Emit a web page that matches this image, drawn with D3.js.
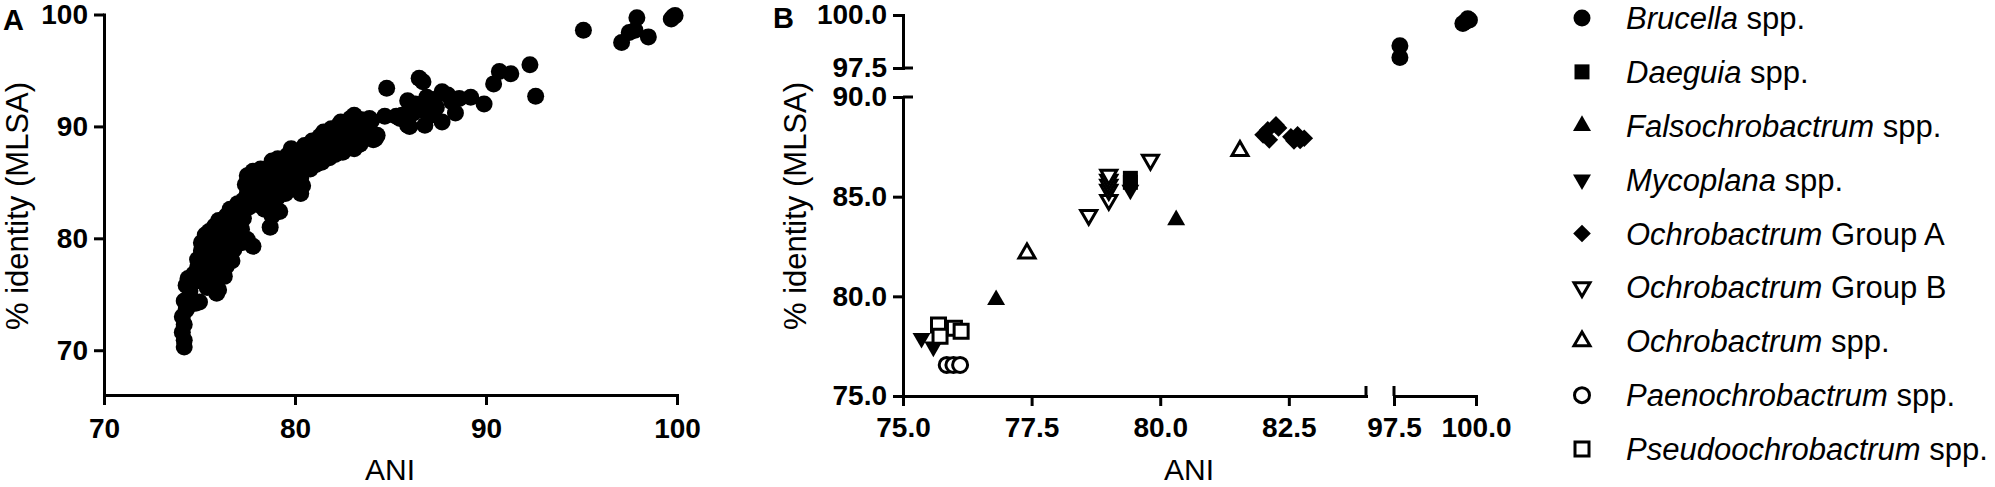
<!DOCTYPE html>
<html>
<head>
<meta charset="utf-8">
<script src="https://cdn.jsdelivr.net/npm/d3@7"></script>
<style>
	body{margin:0;background:#fff;}
	svg{display:block;font-family:'Liberation Sans',Arial,sans-serif;}
</style>
</head>
<body>
<svg id="chart" width="1995" height="487"></svg>
<script>
// ---- Panel A: all pairwise comparisons, [ANI, % identity MLSA]
const aTicks = [70,80,90,100];
const aPoints = [
	[74.2,70.3],[74.2,70.9],[74.1,71.6],[74.2,72.3],[74.1,73.0],[74.3,73.6],[74.2,74.4],[74.4,73.9],[74.5,75.3],[74.3,75.8],[74.4,76.4],
	[74.8,74.2],[75.0,74.3],[74.7,76.8],[74.9,77.4],[74.9,78.1],[75.0,76.2],[75.1,78.9],[75.1,79.6],[75.3,80.3],[75.2,77.6],[75.4,75.6],
	[75.5,76.4],[75.6,77.5],[75.4,78.6],[75.6,79.4],[75.5,80.6],[75.8,81.1],[75.9,75.1],[76.0,75.4],[75.8,76.4],[75.9,77.8],[75.8,78.8],[76.0,79.9],[76.1,80.6],[76.0,81.6],
	[76.3,76.6],[76.4,77.5],[76.2,78.3],[76.4,79.2],[76.3,80.2],[76.5,81.1],[76.4,82.0],[76.6,82.6],[76.7,78.0],[76.8,79.0],[76.9,80.0],[76.8,81.2],[76.9,82.2],[77.0,83.1],
	[77.2,79.6],[77.5,79.9],[77.8,79.3],[77.2,80.8],[77.3,81.8],[77.1,82.6],[77.3,83.4],[77.5,84.0],[77.4,84.8],[77.5,85.6],[77.6,82.8],[77.8,83.6],[77.7,84.6],[77.9,85.4],[77.8,86.0],
	[78.1,83.0],[78.2,84.0],[78.0,84.9],[78.3,85.5],[78.2,86.2],[78.5,83.5],[78.6,84.5],[78.5,85.5],[78.7,86.4],[78.7,81.0],[78.8,82.0],[78.4,82.6],[78.9,83.1],[78.9,85.0],[78.8,86.9],
	[79.2,82.4],[79.1,83.7],[79.2,84.6],[79.0,85.7],[79.3,86.4],[79.1,87.1],[79.5,84.0],[79.6,85.0],[79.4,85.8],[79.7,86.6],[79.6,87.4],[79.8,88.0],[79.9,84.6],[79.9,85.6],
	[80.1,86.2],[80.0,87.0],[80.2,87.8],[80.3,84.0],[80.4,84.7],[80.3,85.4],[80.5,86.5],[80.6,87.4],[80.5,88.3],[80.8,86.2],[80.9,87.0],[80.7,88.0],[80.9,88.7],
	[81.1,86.6],[81.2,87.6],[81.0,88.4],[81.3,89.1],[81.4,86.8],[81.5,87.9],[81.6,88.7],[81.5,89.5],[81.8,87.2],[81.9,88.2],[81.8,89.0],[81.9,89.8],
	[82.1,87.5],[82.2,88.4],[82.0,89.3],[82.3,90.1],[82.5,87.7],[82.5,88.8],[82.6,89.6],[82.4,90.4],[82.8,88.2],[82.9,89.2],[82.8,90.1],[82.9,90.7],
	[83.1,88.0],[83.2,89.0],[83.1,90.0],[83.1,91.0],[83.4,88.4],[83.5,89.5],[83.5,90.6],[83.7,88.9],[83.8,89.8],[83.9,90.7],[84.1,88.8],[84.2,88.9],[84.0,90.5],[84.3,89.2],
	[84.8,93.4],[84.7,90.9],[85.3,90.9],[85.5,90.7],[85.9,92.3],[85.9,90.1],[86.0,90.0],[86.2,91.2],[86.5,94.3],[86.7,94.0],[86.8,90.1],
	[87.1,92.3],[87.4,91.7],[87.1,91.0],[87.7,93.1],[87.7,90.4],[88.4,91.2],[88.6,92.5],[89.2,92.6],[89.9,92.0],
	[86.3,92.0],[86.9,92.6],[87.3,92.4],[88.0,92.8],[88.2,92.2],[86.6,91.5],[85.6,91.0],
	[90.4,93.8],[90.7,94.9],[91.3,94.7],[92.3,95.5],[92.6,92.7],
	[95.1,98.6],[97.1,97.5],[97.5,98.4],[97.8,98.6],[97.9,99.7],[98.5,98.0],[99.7,99.6],[99.9,99.9],[99.8,99.8]
];

// ---- Panel B: per-genus comparisons, broken axes
const bTicksXLow = [75,77.5,80,82.5];
const bTicksXHigh = [97.5,100];
const bTicksYLow = [75,80,85,90];
const bTicksYHigh = [97.5,100];

const genera = ['Brucella','Daeguia','Falsochrobactrum','Mycoplana','Ochrobactrum','Ochrobactrum','Ochrobactrum','Paenochrobactrum','Pseudoochrobactrum'];
const generaSuffix = ['spp.','spp.','spp.','spp.','Group A','Group B','spp.','spp.','spp.'];

const bBrucella = [[97.68,98.55],[97.68,98.0],[99.6,99.6],[99.7,99.7],[99.8,99.76],[99.75,99.82]];
const bDaeguia = [[79.42,85.92],[79.42,85.72]];
const bFalsochrobactrum = [[76.81,79.82],[80.31,83.83]];
const bMycoplana = [[75.36,77.9],[75.59,77.47],[79.42,85.34]];
const bOchroGroupA = [[82.0,88.1],[82.09,88.35],[82.25,88.6],[82.12,87.85],[82.3,88.45],[82.54,88.0],[82.67,88.1],[82.8,87.93],[82.6,87.8],[82.72,87.82]];
const bOchroGroupB = [[78.61,84.08],[79.0,84.83],[79.0,85.34],[79.0,85.59],[79.0,85.84],[79.0,86.09],[79.81,86.84]];
const bOchroSpp = [[77.41,82.16],[81.55,87.3]];
const bPaenochrobactrum = [[75.85,76.56],[75.98,76.56],[76.11,76.56]];
const bPseudoochrobactrum = [[75.69,78.56],[75.72,78.0],[76.0,78.4],[76.13,78.25]];

const bSeries = [bBrucella,bDaeguia,bFalsochrobactrum,bMycoplana,bOchroGroupA,bOchroGroupB,bOchroSpp,bPaenochrobactrum,bPseudoochrobactrum];

// marker style per series (legend order)
const markerShape = ['circle','square','up','down','diamond','down','up','circle','square'];
const markerOpen = [false,false,false,false,false,true,true,true,true];

const svg = d3.select('#chart');
svg.append('rect').attr('width',1995).attr('height',487).attr('fill','#fff');

function markerPath(shape,open){
	const sym = d3.symbol();
	if(shape==='circle') sym.type(d3.symbolCircle).size(open?Math.PI*7.5*7.5:Math.PI*8.5*8.5);
	else if(shape==='square') sym.type(d3.symbolSquare).size(open?14*14:15*15);
	else if(shape==='diamond') sym.type(d3.symbolSquare).size(12.5*12.5);
	else sym.type(d3.symbolTriangle).size(open?111:140);
	return sym();
}
function markerRotate(shape){
	return shape==='down'?' rotate(180)':(shape==='diamond'?' rotate(45)':'');
}
function drawMarker(sel,i){
	sel.attr('d',markerPath(markerShape[i],markerOpen[i]))
		.attr('fill',markerOpen[i]?'#fff':'#000')
		.attr('stroke',markerOpen[i]?'#000':'none')
		.attr('stroke-width',3)
		.attr('stroke-linejoin','miter');
}

function styleAxis(g){
	g.attr('font-family',null).attr('font-size',null);
	g.select('.domain').attr('stroke-width',3).attr('stroke-linecap','square');
	g.selectAll('.tick line').attr('stroke-width',3);
	g.selectAll('.tick text')
		.attr('font-size',28)
		.attr('font-weight','bold')
		.attr('fill','#000');
}

// ---------- Panel A ----------
const xA = d3.scaleLinear().domain([70,100]).range([104,677]);
const yA = d3.scaleLinear().domain([66,100]).range([395,14.5]);

svg.append('g')
	.attr('transform','translate(0,395)')
	.call(d3.axisBottom(xA).tickValues(aTicks).tickSize(10).tickSizeOuter(0).tickPadding(13))
	.call(styleAxis);
svg.append('g')
	.attr('transform','translate(104,0)')
	.call(d3.axisLeft(yA).tickValues(aTicks).tickSize(10).tickSizeOuter(0).tickPadding(6))
	.call(styleAxis);

svg.append('g').attr('class','points-a')
	.selectAll('circle')
	.data(aPoints)
	.enter()
	.append('circle')
	.attr('cx',d=>xA(d[0]))
	.attr('cy',d=>yA(d[1]))
	.attr('r',8.5)
	.attr('fill','#000');

svg.append('text').attr('x',3).attr('y',30).attr('font-size',29).attr('font-weight','bold').text('A');
svg.append('text')
	.attr('transform','translate(28,206) rotate(-90)')
	.attr('text-anchor','middle')
	.attr('font-size',31)
	.text('% identity (MLSA)');
svg.append('text')
	.attr('x',390).attr('y',480)
	.attr('text-anchor','middle')
	.attr('font-size',30)
	.text('ANI');

// ---------- Panel B ----------
const xBLow = d3.scaleLinear().domain([75,84]).range([903,1366]);
const xBHigh = d3.scaleLinear().domain([97.5,100]).range([1394,1476]);
const yBLow = d3.scaleLinear().domain([75,90]).range([396,97]);
const yBHigh = d3.scaleLinear().domain([97.5,100]).range([68,15]);
const xB = v=>v>90?xBHigh(v):xBLow(v);
const yB = v=>v>94?yBHigh(v):yBLow(v);
const fmt = d3.format('.1f');

svg.append('g')
	.attr('transform','translate(0,396)')
	.call(d3.axisBottom(xBLow).tickValues(bTicksXLow).tickFormat(fmt).tickSize(10).tickSizeOuter(0).tickPadding(11))
	.call(styleAxis);
svg.append('g')
	.attr('transform','translate(0,396)')
	.call(d3.axisBottom(xBHigh).tickValues(bTicksXHigh).tickFormat(fmt).tickSize(10).tickSizeOuter(0).tickPadding(11))
	.call(styleAxis);
svg.append('g')
	.attr('transform','translate(903,0)')
	.call(d3.axisLeft(yBLow).tickValues(bTicksYLow).tickFormat(fmt).tickSize(10).tickSizeOuter(0).tickPadding(6))
	.call(styleAxis);
svg.append('g')
	.attr('transform','translate(903,0)')
	.call(d3.axisLeft(yBHigh).tickValues(bTicksYHigh).tickFormat(fmt).tickSize(10).tickSizeOuter(0).tickPadding(6))
	.call(styleAxis);

// break marks: ticks crossing the axis at each segment end
const breaks = svg.append('g').attr('stroke','#000').attr('stroke-width',3);
[xBLow(84),xBHigh(97.5)].forEach(x=>{
	breaks.append('line').attr('x1',x).attr('x2',x).attr('y1',386).attr('y2',396);
});
[yBLow(90),yBHigh(97.5)].forEach(y=>{
	breaks.append('line').attr('x1',903).attr('x2',913).attr('y1',y).attr('y2',y);
});

bSeries.forEach((pts,i)=>{
	svg.append('g').attr('class','series-b')
		.selectAll('path')
		.data(pts)
		.enter()
		.append('path')
		.attr('transform',d=>`translate(${xB(d[0])},${yB(d[1])})${markerRotate(markerShape[i])}`)
		.call(drawMarker,i);
});

svg.append('text').attr('x',773).attr('y',28).attr('font-size',29).attr('font-weight','bold').text('B');
svg.append('text')
	.attr('transform','translate(806,206) rotate(-90)')
	.attr('text-anchor','middle')
	.attr('font-size',31)
	.text('% identity (MLSA)');
svg.append('text')
	.attr('x',1189).attr('y',480)
	.attr('text-anchor','middle')
	.attr('font-size',30)
	.text('ANI');

// ---------- Legend ----------
const legendY = d3.scalePoint().domain(d3.range(genera.length)).range([29,460]);
const legend = svg.append('g').attr('class','legend');
genera.forEach((g,i)=>{
	const row = legend.append('g').attr('transform',`translate(0,${legendY(i)})`);
	row.append('path')
		.attr('transform',`translate(1582,-11)${markerRotate(markerShape[i])}`)
		.call(drawMarker,i);
	const t = row.append('text').attr('x',1626).attr('font-size',31);
	t.append('tspan').attr('font-style','italic').text(g);
	t.append('tspan').text(' '+generaSuffix[i]);
});
</script>
</body>
</html>
